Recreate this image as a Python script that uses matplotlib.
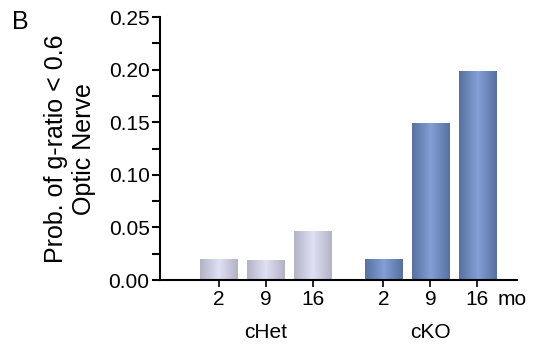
import numpy as np
import matplotlib
matplotlib.use("Agg")
import matplotlib.pyplot as plt
from matplotlib.colors import LinearSegmentedColormap

plt.rcParams['font.family'] = ['Liberation Sans', 'DejaVu Sans']

months = ["2", "9", "16"]
groups = ["cHet", "cKO"]
chet_vals = [0.020, 0.019, 0.047]
cko_vals = [0.020, 0.149, 0.199]
yticks = [0.00, 0.05, 0.10, 0.15, 0.20, 0.25]

fig = plt.figure(figsize=(5.35, 3.5), dpi=100)
ax = fig.add_axes([0.299, 0.2, 0.667, 0.751])

pos_chet = np.array([0, 1, 2], dtype=float)
pos_cko = np.array([3.5, 4.5, 5.5])
width = 0.8

cmap_chet = LinearSegmentedColormap.from_list("chet", ["#b2b2c6", "#e0e0f4", "#b2b2c6"])
cmap_cko = LinearSegmentedColormap.from_list("cko", ["#58709e", "#839fd6", "#58709e"])
grad = np.linspace(0, 1, 256).reshape(1, -1)

def grad_bars(pos, vals, cmap):
    bars = ax.bar(pos, vals, width=width, color="none", edgecolor="none", zorder=2)
    for b in bars:
        x0 = b.get_x(); w = b.get_width(); h = b.get_height()
        im = ax.imshow(grad, cmap=cmap, aspect="auto", extent=[x0, x0 + w, 0, h],
                       zorder=2, interpolation="bicubic")
        im.set_clip_path(b)

grad_bars(pos_chet, chet_vals, cmap_chet)
grad_bars(pos_cko, cko_vals, cmap_cko)

ax.set_xlim(-1.26, 6.34)
ax.set_ylim(0, 0.25)
ax.set_yticks(yticks)
ax.set_yticklabels([f"{v:.2f}" for v in yticks])
ax.set_yticks(np.arange(0.025, 0.25, 0.05), minor=True)
ax.set_xticks(np.concatenate([pos_chet, pos_cko]))
ax.set_xticklabels(months + months)

for s in ["top", "right"]:
    ax.spines[s].set_visible(False)
for s in ["left", "bottom"]:
    ax.spines[s].set_linewidth(1.5)

FS = 15
ax.tick_params(axis="y", which="major", length=6, width=1.5, labelsize=FS, pad=1.5)
ax.tick_params(axis="y", which="minor", length=6, width=1.5)
ax.tick_params(axis="x", length=5, width=1.2, labelsize=FS, pad=2.5)

ax.set_ylabel("Prob. of g-ratio < 0.6\nOptic Nerve", fontsize=18, labelpad=9, linespacing=1.2)

ax.annotate("mo", xy=(5.93, 0), xycoords=("data", "axes fraction"),
            xytext=(0, -7.5), textcoords="offset points",
            fontsize=FS, ha="left", va="top")
ax.annotate(groups[0], xy=(pos_chet.mean(), 0), xycoords=("data", "axes fraction"),
            xytext=(0, -31), textcoords="offset points", fontsize=FS, ha="center", va="top")
ax.annotate(groups[1], xy=(pos_cko.mean(), 0), xycoords=("data", "axes fraction"),
            xytext=(0, -31), textcoords="offset points", fontsize=FS, ha="center", va="top")

fig.text(12 / 535, 1 - 22 / 350, "B", fontsize=18, ha="left", va="center")

fig.savefig("out.png", dpi=100)
